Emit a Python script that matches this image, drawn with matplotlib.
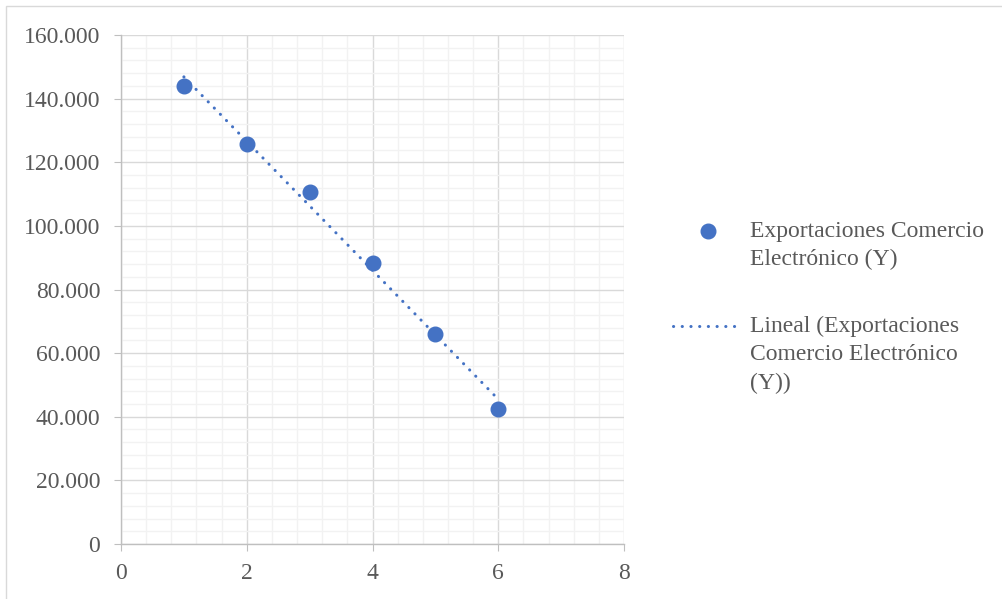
import numpy as np
import matplotlib.pyplot as plt
from matplotlib.ticker import FuncFormatter, MultipleLocator
from matplotlib.patches import Rectangle
from matplotlib.lines import Line2D

# datos
periodo = [1, 2, 3, 4, 5, 6]
exportaciones = [144000, 125700, 110600, 88300, 66000, 42400]

label_puntos = ["Exportaciones Comercio", "Electrónico (Y)"]
label_tendencia = ["Lineal (Exportaciones", "Comercio Electrónico", "(Y))"]

azul = "#4472C4"
gris_texto = "#595959"
W, H = 1003, 599

plt.rcParams['font.family'] = ['Liberation Serif', 'DejaVu Serif']

fig = plt.figure(figsize=(W/100, H/100), dpi=100)
ax = fig.add_axes([121/W, 1 - 544/H, (624 - 121)/W, (544 - 35)/H])

# marco exterior del grafico
fig.patches.append(Rectangle((6/W, -0.1), 1.2, 1 - 6/H + 0.1,
                             transform=fig.transFigure, fill=False,
                             edgecolor="#D9D9D9", linewidth=1.0))

ax.plot(periodo, exportaciones, 'o', color=azul, markersize=10.5, zorder=4)

# linea de tendencia lineal
estilo_punteado = (0, (0.05, 2.8))
m, b = np.polyfit(periodo, exportaciones, 1)
xt = np.array([periodo[0], periodo[-1]])
ax.plot(xt, m*xt + b, color=azul, linewidth=2.2, linestyle=estilo_punteado,
        dash_capstyle='round', zorder=3)

ax.set_xlim(0, 8)
ax.set_ylim(0, 160000)
ax.xaxis.set_major_locator(MultipleLocator(2))
ax.xaxis.set_minor_locator(MultipleLocator(0.4))
ax.yaxis.set_major_locator(MultipleLocator(20000))
ax.yaxis.set_minor_locator(MultipleLocator(4000))
ax.yaxis.set_major_formatter(FuncFormatter(lambda v, p: f"{int(v):,}".replace(",", ".")))

ax.grid(which='minor', color="#F2F2F2", linewidth=1.0, zorder=0)
ax.grid(which='major', color="#D9D9D9", linewidth=1.0, zorder=1)
ax.set_axisbelow(True)

for s in ['top', 'right']:
    ax.spines[s].set_visible(False)
for s in ['left', 'bottom']:
    ax.spines[s].set_color("#BFBFBF")
    ax.spines[s].set_linewidth(1.0)

ax.tick_params(which='major', length=5, color="#BFBFBF", labelsize=17,
               labelcolor=gris_texto)
ax.tick_params(axis='x', pad=9)
ax.tick_params(axis='y', pad=10)
ax.tick_params(which='minor', length=0)

# leyenda dibujada a mano (alineada con la primera linea de cada entrada)
def fy(py):
    return 1 - py/H

fig.lines.append(Line2D([708/W], [fy(231)], marker='o', markersize=10.5,
                        color=azul, linestyle='none', transform=fig.transFigure))
fig.lines.append(Line2D([673/W, 742/W], [fy(326), fy(326)], color=azul,
                        linewidth=2.2, linestyle=estilo_punteado,
                        dash_capstyle='round', transform=fig.transFigure))

paso = 28.5
for i, linea in enumerate(label_puntos):
    fig.text(750/W, fy(231 + i*paso), linea, fontsize=17, color=gris_texto,
             va='center', ha='left')
for i, linea in enumerate(label_tendencia):
    fig.text(750/W, fy(326 + i*paso), linea, fontsize=17, color=gris_texto,
             va='center', ha='left')

fig.savefig("out.png", dpi=100)
